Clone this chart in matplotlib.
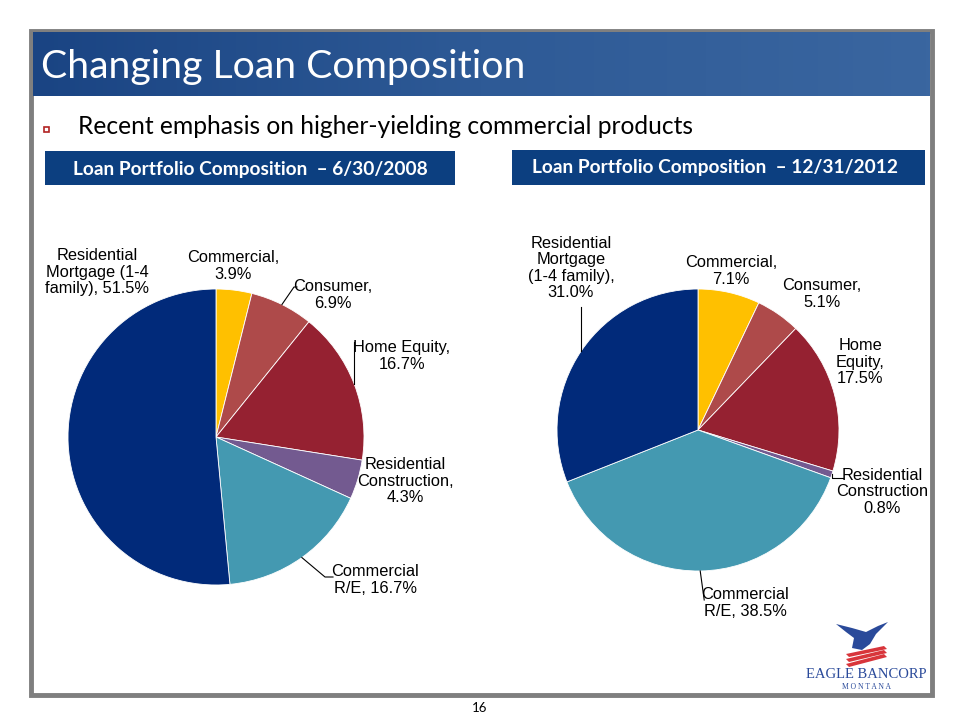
import matplotlib.pyplot as plt
import numpy as np
from matplotlib.patches import Rectangle, Polygon
from matplotlib.colors import LinearSegmentedColormap

# data
categories = ["Commercial", "Consumer", "Home Equity", "Residential Construction",
              "Commercial R/E", "Residential Mortgage (1-4 family)"]
share_2008 = [3.9, 6.9, 16.7, 4.3, 16.7, 51.5]
share_2012 = [7.1, 5.1, 17.5, 0.8, 38.5, 31.0]
labels_2008 = ["Commercial,\n3.9%", "Consumer,\n6.9%", "Home Equity,\n16.7%",
               "Residential\nConstruction,\n4.3%", "Commercial\nR/E, 16.7%",
               "Residential\nMortgage (1-4\nfamily), 51.5%"]
labels_2012 = ["Commercial,\n7.1%", "Consumer,\n5.1%", "Home\nEquity,\n17.5%",
               "Residential\nConstruction\n0.8%", "Commercial\nR/E, 38.5%",
               "Residential\nMortgage\n(1-4 family),\n31.0%"]
colors = ["#FFC000", "#AE4A4A", "#952131", "#735A90", "#4499B1", "#012A7A"]

W, H = 960, 720
fig = plt.figure(figsize=(9.6, 7.2), dpi=100)
fig.patch.set_facecolor("white")

# background layer (pixel coords, y down)
bg = fig.add_axes([0, 0, 1, 1])
bg.axis("off")

# slide frame
bg.add_patch(Rectangle((31, 31), 901, 664, fill=False, ec="#7F7F7F", lw=3.5))
# header bar with gradient
grad = np.linspace(0, 1, 256).reshape(1, -1)
hcmap = LinearSegmentedColormap.from_list("hdr", ["#1A4483", "#2E5A96", "#3A66A0"])
bg.imshow(grad, extent=(33, 930, 96, 32), cmap=hcmap, aspect="auto", zorder=1)
bg.set_xlim(0, W)
bg.set_ylim(H, 0)
bg.text(41, 67, "Changing Loan Composition", color="white", fontsize=28.3,
        family="Lato", va="center", ha="left", zorder=2)

# bullet line
bg.add_patch(Rectangle((43.5, 126.5), 5, 5, fc="white", ec="#B22222", lw=1.2))
bg.text(78, 126, "Recent emphasis on higher-yielding commercial products",
        fontsize=17.7, family="Lato", va="center", ha="left", color="black")

# chart title boxes
box_blue = "#0C3F80"
bg.add_patch(Rectangle((45, 151), 410, 34, fc=box_blue, ec="none"))
bg.text(250, 169, "Loan Portfolio Composition  \u2013 6/30/2008", color="white",
        fontsize=13.8, fontweight="bold", family="Lato", ha="center", va="center")
bg.add_patch(Rectangle((512, 150), 413, 35, fc=box_blue, ec="none"))
bg.text(715, 168, "Loan Portfolio Composition  \u2013 12/31/2012", color="white",
        fontsize=13.8, fontweight="bold", family="Lato", ha="center", va="center")

# logo (simplified)
bg.add_patch(Polygon([(836, 624), (852, 628), (866, 632), (878, 626), (888, 622),
                      (876, 634), (870, 644), (862, 650), (852, 648), (854, 638),
                      (846, 632)], fc="#2A4A9A", ec="none"))
for k in range(3):
    bg.add_patch(Polygon([(846, 654 + 5 * k), (884, 646 + 4 * k), (887, 649 + 4 * k),
                          (849, 657 + 5 * k)], fc="#D8353B", ec="none"))
bg.text(866, 674, "EAGLE BANCORP", color="#2A4A9A", fontsize=10.5,
        family="Liberation Serif", ha="center", va="center")
bg.text(866, 687, "M O N T A N A", color="#2A4A9A", fontsize=5.5,
        family="Liberation Serif", ha="center", va="center")

# page number
bg.text(480, 708, "16", fontsize=9.5, family="Lato", ha="center", va="center")


def draw_pie(values, cx, cy, r):
    pax = fig.add_axes([(cx - r) / W, (H - cy - r) / H, 2 * r / W, 2 * r / H])
    wedges, _ = pax.pie(values, colors=colors, startangle=90, counterclock=False,
                        radius=1, wedgeprops=dict(linewidth=0.6, edgecolor="white"))
    pax.set_xlim(-1, 1)
    pax.set_ylim(-1, 1)
    pax.axis("off")
    return pax, wedges


def edge_point(pax, wedge):
    a = np.deg2rad((wedge.theta1 + wedge.theta2) / 2)
    px = pax.transData.transform((np.cos(a), np.sin(a)))
    return bg.transData.inverted().transform(px)


pax1, w1 = draw_pie(share_2008, 216, 437, 148)
pax2, w2 = draw_pie(share_2012, 698, 430, 141)

# overlay for labels and leader lines
ov = fig.add_axes([0, 0, 1, 1])
ov.set_xlim(0, W)
ov.set_ylim(H, 0)
ov.axis("off")
ov.patch.set_alpha(0)

lab_kw = dict(fontsize=11.8, family="Liberation Sans", ha="center", va="center",
              linespacing=1.12, color="black")

# label centres (pixels)
pos_2008 = [(233, 266), (333, 295), (402, 356), (405, 481), (375, 580), (97, 272)]
pos_2012 = [(731, 271), (822, 294), (860, 362), (882, 492), (745, 603), (571, 268)]

for txt, (x, y) in zip(labels_2008, pos_2008):
    ov.text(x, y, txt, **lab_kw)
for txt, (x, y) in zip(labels_2012, pos_2012):
    ov.text(x, y, txt, **lab_kw)

line_kw = dict(color="black", lw=0.8)
# 2008 leader lines
ex, ey = edge_point(pax1, w1[1])
ov.plot([ex, 294, 297], [ey, 287, 287], **line_kw)
ex, ey = edge_point(pax1, w1[2])
ov.plot([ex, ex], [ey, 342], **line_kw)
ex, ey = edge_point(pax1, w1[4])
ov.plot([ex, 325, 333], [ey, 577, 577], **line_kw)
# 2012 leader lines
ex, ey = edge_point(pax2, w2[5])
ov.plot([ex, ex], [ey, 307], **line_kw)
ex, ey = edge_point(pax2, w2[3])
ov.plot([ex, ex, 843], [ey, 478, 478], **line_kw)
ex, ey = edge_point(pax2, w2[4])
ov.plot([ex, ex + 4], [ey, 600], **line_kw)

fig.savefig("out.png", dpi=100)
